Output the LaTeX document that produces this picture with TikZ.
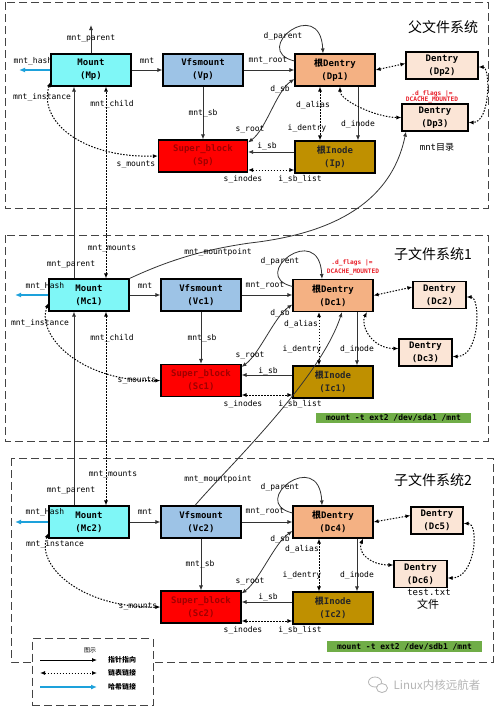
\documentclass[tikz,border=0pt]{standalone}
\usepackage{fontspec}
\setmainfont{DejaVu Sans}
\newfontfamily\monof{DejaVu Sans Mono}
\newfontfamily\cjk{Noto Sans CJK SC}
\usetikzlibrary{arrows.meta,calc}
\definecolor{mountc}{HTML}{7FF7F7}
\definecolor{vfsc}{HTML}{9DC3E6}
\definecolor{sbc}{HTML}{FF0000}
\definecolor{sbtext}{HTML}{A00000}
\definecolor{rdentc}{HTML}{F4B183}
\definecolor{dentc}{HTML}{FBE5D6}
\definecolor{inodec}{HTML}{BF9000}
\definecolor{greenc}{HTML}{70AD47}
\definecolor{hashc}{HTML}{1DA1DB}
\definecolor{linec}{HTML}{333333}
\definecolor{framec}{HTML}{444444}
\definecolor{flagc}{HTML}{E8202A}
\definecolor{wmc}{HTML}{B4B4B4}
\begin{document}
\begin{tikzpicture}[x=1pt,y=-1pt,
  obj/.style={draw=black, line width=1.1pt, minimum width=80pt, minimum height=32pt, inner sep=0pt, align=center, font=\monof\bfseries\fontsize{9}{13}\selectfont},
  mountbox/.style={obj, fill=mountc},
  vfsbox/.style={obj, fill=vfsc},
  sbbox/.style={obj, fill=sbc, text=sbtext},
  rdbox/.style={obj, fill=rdentc},
  dbox/.style={obj, fill=dentc, minimum height=27pt},
  inbox/.style={obj, fill=inodec, text=black!85},
  lbl/.style={font=\monof\fontsize{8}{9}\selectfont, inner sep=0pt},
  flag/.style={font=\monof\bfseries\fontsize{6.2}{7}\selectfont, inner sep=0pt, text=flagc},
  ttl/.style={font=\cjk\fontsize{14}{16}\selectfont, inner sep=0pt},
  ptr/.style={draw=linec, line width=0.8pt, -{Latex[length=5pt,width=4pt]}},
  ptrb/.style={draw=linec, line width=0.8pt, {Latex[length=5pt,width=4pt]}-{Latex[length=5pt,width=4pt]}},
  lnk/.style={draw=black, line width=1pt, dash pattern=on 1.5pt off 1.5pt, {Latex[length=5pt,width=4pt]}-{Latex[length=5pt,width=4pt]}},
  hashp/.style={draw=hashc, line width=1.2pt, -{Latex[length=6pt,width=5pt]}},
  grpframe/.style={draw=framec, line width=0.9pt, dash pattern=on 8pt off 4pt},
  greenbox/.style={fill=greenc, minimum width=155pt, minimum height=10.5pt, inner sep=0pt, font=\monof\bfseries\fontsize{8}{9}\selectfont},
]
\useasboundingbox (0,0) rectangle (499,707);

% ---------- frames ----------
\draw[grpframe] (5,2) rectangle (488,208);
\draw[grpframe] (5,235) rectangle (488,441);
\draw[grpframe] (11,458) rectangle (493,662);

% ---------- titles ----------
\node[ttl] (t1) at (443,27) {父文件系统};
\node[ttl] (t2) at (433,254) {子文件系统1};
\node[ttl] (t3) at (433,480) {子文件系统2};

% ---------- top nodes ----------
\node[mountbox] (Mp) at (91,70) {Mount\\(Mp)};
\node[vfsbox] (Vp) at (203,70) {Vfsmount\\(Vp)};
\node[sbbox, minimum width=89pt] (Sp) at (203,156) {Super\_block\\(Sp)};
\node[rdbox] (Dp1) at (335,70) {{\cjk 根}Dentry\\(Dp1)};
\node[dbox, minimum width=72pt] (Dp2) at (442,65.5) {Dentry\\(Dp2)};
\node[dbox, minimum width=66pt] (Dp3) at (435,117.5) {Dentry\\(Dp3)};
\node[inbox] (Ip) at (335,157) {{\cjk 根}Inode\\(Ip)};

% ---------- middle nodes ----------
\node[mountbox] (Mc1) at (89,295) {Mount\\(Mc1)};
\node[vfsbox] (Vc1) at (201,295) {Vfsmount\\(Vc1)};
\node[sbbox] (Sc1) at (201,380.5) {Super\_block\\(Sc1)};
\node[rdbox] (Dc1) at (333,295.5) {{\cjk 根}Dentry\\(Dc1)};
\node[dbox, minimum width=53pt] (Dc2) at (439.5,295) {Dentry\\(Dc2)};
\node[dbox, minimum width=53pt] (Dc3) at (425.5,352.5) {Dentry\\(Dc3)};
\node[inbox] (Ic1) at (333,382) {{\cjk 根}Inode\\(Ic1)};

% ---------- bottom nodes ----------
\node[mountbox] (Mc2) at (89,522) {Mount\\(Mc2)};
\node[vfsbox] (Vc2) at (201,522) {Vfsmount\\(Vc2)};
\node[sbbox] (Sc2) at (201,607) {Super\_block\\(Sc2)};
\node[rdbox] (Dc4) at (333,522) {{\cjk 根}Dentry\\(Dc4)};
\node[dbox, minimum width=52pt] (Dc5) at (437,520.5) {Dentry\\(Dc5)};
\node[dbox, minimum width=53pt] (Dc6) at (420.5,574) {Dentry\\(Dc6)};
\node[inbox] (Ic2) at (333,608) {{\cjk 根}Inode\\(Ic2)};

% ---------- free ends ----------
\coordinate (MpUp) at (91,25);
\coordinate (MpH) at (19,70);
\coordinate (Mc1H) at (15,295);
\coordinate (Mc2H) at (15,522);
\coordinate (mp1) at (250,243);

% ---------- top connectors ----------
\draw[ptr] (Mp.north) -- (MpUp);
\draw[hashp] (Mp.west) -- (MpH);
\draw[ptr] (Mp.east) -- (Vp.west);
\draw[ptr] (Vp.south) -- (Vp.south |- Sp.north);
\draw[ptr] (Vp.east) -- (Dp1.west);
\draw[ptr] ([yshift=9pt]Dp1.west) .. controls +(-45,-11) and +(-3,-59) .. ([xshift=-12pt]Dp1.north);
\draw[ptrb] ([yshift=-3pt]Sp.north east) .. controls +(18,-13) and +(-18,12) .. ([yshift=-9pt]Dp1.west);
\draw[ptr] ([yshift=5pt]Ip.west) -- ([yshift=5pt]Ip.west -| Sp.east);
\draw[lnk] ([yshift=-13pt]Ip.west -| Sp.east) -- ([yshift=-13pt]Ip.west);
\draw[lnk] ([xshift=-15pt]Dp1.south) -- ([xshift=-15pt]Dp1.south |- Ip.north);
\draw[ptr] ([xshift=23pt]Dp1.south) -- ([xshift=23pt]Dp1.south |- Ip.north);
\draw[lnk] (Dp1.east) -- ([yshift=2pt]Dp2.west);
\draw[lnk] ([xshift=5pt]Dp1.south) .. controls +(0,14) and +(-25,0) .. (Dp3.west);
\draw[lnk] ([yshift=-1.5pt]Dp2.east) .. controls +(12,0) and +(22,0) .. ([yshift=-5pt]Dp3.east);
\draw[lnk] ([yshift=-12pt]Mp.west) .. controls (38,120) and (80,158) .. (Sp.west);

% ---------- mount hierarchy ----------
\draw[ptr] ([xshift=-15pt]Mc1.north) -- ([xshift=-15pt]Mc1.north |- Mp.south);
\draw[lnk] ([xshift=17pt]Mc1.north) -- ([xshift=17pt]Mc1.north |- Mp.south);
\draw[ptr] ([xshift=-15pt]Mc2.north) -- ([xshift=-15pt]Mc2.north |- Mc1.south);
\draw[lnk] ([xshift=17pt]Mc2.north) -- ([xshift=17pt]Mc2.north |- Mc1.south);
\draw[ptr] (Mc1.north east) .. controls (165,262) and (200,250) .. (mp1) .. controls (320,235) and (390,210) .. ([xshift=-29pt]Dp3.south);
\draw[ptr] ([xshift=-6pt]Vc2.north) .. controls (225,470) and (320,380) .. ([xshift=9pt]Dc1.south);

% ---------- middle connectors ----------
\draw[hashp] (Mc1.west) -- (Mc1H);
\draw[ptr] (Mc1.east) -- (Vc1.west);
\draw[ptr] (Vc1.south) -- (Vc1.south |- Sc1.north);
\draw[ptr] (Vc1.east) -- (Vc1.east -| Dc1.west);
\draw[ptr] ([yshift=9pt]Dc1.west) .. controls +(-45,-11) and +(-3,-59) .. ([xshift=-11pt]Dc1.north);
\draw[ptrb] ([yshift=-3pt]Sc1.north east) .. controls +(18,-13) and +(-18,12) .. ([yshift=-9pt]Dc1.west);
\draw[ptr] ([yshift=7pt]Ic1.west) -- ([yshift=7pt]Ic1.west -| Sc1.east);
\draw[lnk] ([yshift=-13pt]Ic1.west -| Sc1.east) -- ([yshift=-13pt]Ic1.west);
\draw[lnk] ([xshift=-14pt]Dc1.south) -- ([xshift=-14pt]Dc1.south |- Ic1.north);
\draw[ptr] ([xshift=24pt]Dc1.south) -- ([xshift=24pt]Dc1.south |- Ic1.north);
\draw[lnk] (Dc1.east) -- ([yshift=8pt]Dc2.west);
\draw[lnk] ([xshift=34pt]Dc1.south) .. controls +(-7,13) and +(-27,0) .. ([yshift=4pt]Dc3.west);
\draw[lnk] ([yshift=-2pt]Dc2.east) .. controls +(14,0) and +(28,0) .. ([yshift=-4pt]Dc3.east);
\draw[lnk] ([yshift=-8pt]Mc1.west) .. controls (36,335) and (80,382) .. (Sc1.west);

% ---------- bottom connectors ----------
\draw[hashp] (Mc2.west) -- (Mc2H);
\draw[ptr] (Mc2.east) -- (Vc2.west);
\draw[ptr] (Vc2.south) -- (Vc2.south |- Sc2.north);
\draw[ptr] (Vc2.east) -- (Dc4.west);
\draw[ptr] ([yshift=9pt]Dc4.west) .. controls +(-45,-11) and +(-3,-59) .. ([xshift=-11pt]Dc4.north);
\draw[ptrb] ([yshift=-3pt]Sc2.north east) .. controls +(18,-13) and +(-18,12) .. ([yshift=-9pt]Dc4.west);
\draw[ptr] ([yshift=6pt]Ic2.west) -- ([yshift=6pt]Ic2.west -| Sc2.east);
\draw[lnk] ([yshift=-13pt]Ic2.west -| Sc2.east) -- ([yshift=-13pt]Ic2.west);
\draw[lnk] ([xshift=-14pt]Dc4.south) -- ([xshift=-14pt]Dc4.south |- Ic2.north);
\draw[ptr] ([xshift=24pt]Dc4.south) -- ([xshift=24pt]Dc4.south |- Ic2.north);
\draw[lnk] (Dc4.east) -- ([yshift=5pt]Dc5.west);
\draw[lnk] ([xshift=30pt]Dc4.south) .. controls +(-6,15) and +(-22,0) .. ([yshift=9pt]Dc6.west);
\draw[lnk] ([yshift=-3pt]Dc5.east) .. controls +(16,0) and +(28,0) .. ([yshift=-4pt]Dc6.east);
\draw[lnk] ([yshift=-11pt]Mc2.west) .. controls (36,565) and (80,608) .. (Sc2.west);

% ---------- labels top ----------
\node[lbl] (a1) at (91,39) {mnt\_parent};
\node[lbl] (a2) at (33,61) {mnt\_hash};
\node[lbl] (a3) at (42,97) {mnt\_instance};
\node[lbl] (a4) at (112,104) {mnt\_child};
\node[lbl] (a5) at (147,61) {mnt};
\node[lbl] (a6) at (203,113) {mnt\_sb};
\node[lbl] (a7) at (136,165) {s\_mounts};
\node[lbl] (a8) at (268,61) {mnt\_root};
\node[lbl] (a9) at (283,36) {d\_parent};
\node[lbl] (a10) at (280,89) {d\_sb};
\node[lbl] (a11) at (250,130) {s\_root};
\node[lbl] (a12) at (313,105) {d\_alias};
\node[lbl] (a13) at (307,128) {i\_dentry};
\node[lbl] (a14) at (358,124) {d\_inode};
\node[lbl] (a15) at (267,146) {i\_sb};
\node[lbl] (a16) at (243,179) {s\_inodes};
\node[lbl] (a17) at (300,179) {i\_sb\_list};
\node[flag] (a18) at (432,93.5) {.d\_flags |=};
\node[flag] (a19) at (432,100) {DCACHE\_MOUNTED};
\node[lbl, font=\fontsize{9}{10}\selectfont] (a20) at (437,147) {{\monof mnt}{\cjk 目录}};

% ---------- labels middle ----------
\node[lbl] (b1) at (112,249) {mnt\_mounts};
\node[lbl] (b2) at (218,252) {mnt\_mountpoint};
\node[lbl] (b3) at (71,265) {mnt\_parent};
\node[lbl] (b4) at (45,286) {mnt\_Hash};
\node[lbl] (b5) at (40,323) {mnt\_instance};
\node[lbl] (b6) at (112,338) {mnt\_child};
\node[lbl] (b7) at (145,286) {mnt};
\node[lbl] (b8) at (202,338) {mnt\_sb};
\node[lbl] (b9) at (137,381) {s\_mounts};
\node[lbl] (b10) at (265,286) {mnt\_root};
\node[lbl] (b11) at (280,261) {d\_parent};
\node[flag] (b12) at (352,263) {.d\_flags |=};
\node[flag] (b13) at (353,272) {DCACHE\_MOUNTED};
\node[lbl] (b14) at (280,313) {d\_sb};
\node[lbl] (b15) at (301,324) {d\_alias};
\node[lbl] (b16) at (250,356) {s\_root};
\node[lbl] (b17) at (302,349) {i\_dentry};
\node[lbl] (b18) at (357,349) {d\_inode};
\node[lbl] (b19) at (268,371) {i\_sb};
\node[lbl] (b20) at (243,404) {s\_inodes};
\node[lbl] (b21) at (300,404) {i\_sb\_list};
\node[greenbox] (g1) at (393.5,418) {mount -t ext2 /dev/sda1 /mnt};

% ---------- labels bottom ----------
\node[lbl] (c1) at (113,475) {mnt\_mounts};
\node[lbl] (c2) at (218,479) {mnt\_mountpoint};
\node[lbl] (c3) at (71,491) {mnt\_parent};
\node[lbl] (c4) at (45,512) {mnt\_Hash};
\node[lbl] (c5) at (55,544) {mnt\_instance};
\node[lbl] (c6) at (145,512) {mnt};
\node[lbl] (c7) at (200,564) {mnt\_sb};
\node[lbl] (c8) at (138,607) {s\_mounts};
\node[lbl] (c9) at (265,512) {mnt\_root};
\node[lbl] (c10) at (280,487) {d\_parent};
\node[lbl] (c11) at (280,539) {d\_sb};
\node[lbl] (c12) at (302,549) {d\_alias};
\node[lbl] (c13) at (250,582) {s\_root};
\node[lbl] (c14) at (302,575) {i\_dentry};
\node[lbl] (c15) at (357,575) {d\_inode};
\node[lbl] (c16) at (268,597) {i\_sb};
\node[lbl] (c17) at (243,630) {s\_inodes};
\node[lbl] (c18) at (300,630) {i\_sb\_list};
\node[lbl, font=\monof\fontsize{9}{10}\selectfont] (c19) at (429,592) {test.txt};
\node[lbl, font=\cjk\fontsize{11}{12}\selectfont] (c20) at (428,604) {文件};
\node[greenbox] (g2) at (404.5,646.5) {mount -t ext2 /dev/sdb1 /mnt};

% ---------- legend ----------
\node[draw=framec, line width=0.9pt, dash pattern=on 8pt off 4pt, fill=white, minimum width=121pt, minimum height=67pt, inner sep=0pt] (leg) at (92.5,672) {};
\node[font=\cjk\fontsize{6}{7}\selectfont, inner sep=0pt] (legt) at (90,650) {图示};
\coordinate (la1) at (40,660);
\coordinate (la2) at (97,660);
\coordinate (lb1) at (40,673);
\coordinate (lb2) at (97,673);
\coordinate (lc1) at (40,687);
\coordinate (lc2) at (97,687);
\draw[ptr, draw=black] (la1) -- (la2);
\draw[lnk] (lb1) -- (lb2);
\draw[hashp] (lc1) -- (lc2);
\node[font=\cjk\bfseries\fontsize{7}{8}\selectfont, inner sep=0pt] (lat) at (122,660) {指针指向};
\node[font=\cjk\bfseries\fontsize{7}{8}\selectfont, inner sep=0pt] (lbt) at (122,673) {链表链接};
\node[font=\cjk\bfseries\fontsize{7}{8}\selectfont, inner sep=0pt] (lct) at (122,687) {哈希链接};

% ---------- watermark ----------
\draw[wmc, line width=0.8pt] (375,682) ellipse (6.5 and 5);
\draw[wmc, line width=0.8pt, fill=white] (382,688) ellipse (5.5 and 4.5);
\node[text=wmc, font=\cjk\fontsize{11.5}{12}\selectfont, inner sep=0pt] (wm) at (437,685) {Linux内核远航者};
\end{tikzpicture}
\end{document}
